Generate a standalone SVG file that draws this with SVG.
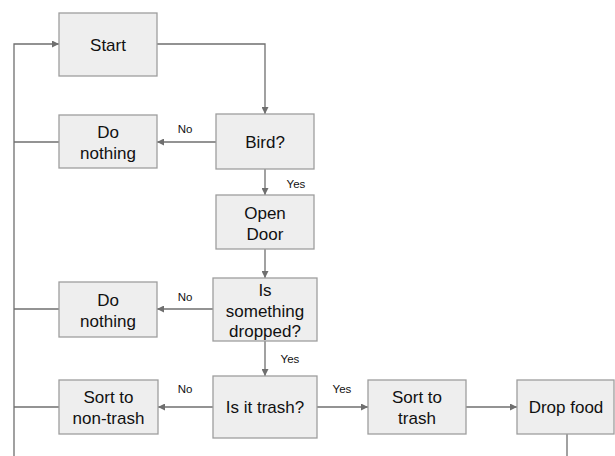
<svg xmlns="http://www.w3.org/2000/svg" width="615" height="456" viewBox="0 0 615 456">
<style>
.box{fill:#eeeeee;stroke:#9e9e9e;stroke-width:1.3}
.t{font-family:"Liberation Sans",Arial,sans-serif;font-size:17px;fill:#111;text-anchor:middle}
.l{font-family:"Liberation Sans",Arial,sans-serif;font-size:11.5px;fill:#111;text-anchor:middle}
.c{fill:none;stroke:#6f6f6f;stroke-width:1.3}
</style>
<defs>
<marker id="ah" viewBox="0 0 10 10" refX="10" refY="5" markerWidth="7" markerHeight="7" markerUnits="userSpaceOnUse" orient="auto">
<path d="M0,0 L10,5 L0,10 z" fill="#6f6f6f"/>
</marker>
</defs>
<rect width="615" height="456" fill="#ffffff"/>
<g id="connectors">
<path class="c" d="M157,44 H265 V114" marker-end="url(#ah)"/>
<path class="c" d="M216,142 H157" marker-end="url(#ah)"/>
<path class="c" d="M265,169 V195" marker-end="url(#ah)"/>
<path class="c" d="M265,249 V278" marker-end="url(#ah)"/>
<path class="c" d="M213,309 H157" marker-end="url(#ah)"/>
<path class="c" d="M265,341 V376" marker-end="url(#ah)"/>
<path class="c" d="M213,407 H158" marker-end="url(#ah)"/>
<path class="c" d="M317,407 H368" marker-end="url(#ah)"/>
<path class="c" d="M466,407 H517" marker-end="url(#ah)"/>
<path class="c" d="M567,434 V456"/>
<path class="c" d="M14,456 V44 H59" marker-end="url(#ah)"/>
<path class="c" d="M59,142 H14"/>
<path class="c" d="M59,309 H14"/>
<path class="c" d="M59,407 H14"/>
<text class="l" x="185" y="133">No</text>
<text class="l" x="296" y="188">Yes</text>
<text class="l" x="185" y="301">No</text>
<text class="l" x="290" y="363">Yes</text>
<text class="l" x="185" y="393">No</text>
<text class="l" x="342" y="393">Yes</text>
</g>
<g id="start">
<rect class="box" x="59" y="13" width="98" height="63"/>
<text class="t" x="108" y="50.5">Start</text>
</g>
<g id="bird">
<rect class="box" x="216" y="114" width="98" height="55"/>
<text class="t" x="265" y="147.5">Bird?</text>
</g>
<g id="donothing1">
<rect class="box" x="59" y="115" width="98" height="53"/>
<text class="t" x="108" y="138">Do</text>
<text class="t" x="108" y="159">nothing</text>
</g>
<g id="opendoor">
<rect class="box" x="216" y="195" width="98" height="54"/>
<text class="t" x="265" y="219">Open</text>
<text class="t" x="265" y="239.5">Door</text>
</g>
<g id="dropped">
<rect class="box" x="213" y="278" width="104" height="63"/>
<text class="t" x="265" y="295.5">Is</text>
<text class="t" x="265" y="316.5">something</text>
<text class="t" x="265" y="337">dropped?</text>
</g>
<g id="donothing2">
<rect class="box" x="59" y="282" width="98" height="55"/>
<text class="t" x="108" y="306">Do</text>
<text class="t" x="108" y="327">nothing</text>
</g>
<g id="istrash">
<rect class="box" x="213" y="376" width="104" height="62"/>
<text class="t" x="265" y="413">Is it trash?</text>
</g>
<g id="sortnontrash">
<rect class="box" x="59" y="380" width="99" height="54"/>
<text class="t" x="108.5" y="403">Sort to</text>
<text class="t" x="108.5" y="424">non-trash</text>
</g>
<g id="sorttrash">
<rect class="box" x="368" y="380" width="98" height="54"/>
<text class="t" x="417" y="403">Sort to</text>
<text class="t" x="417" y="424">trash</text>
</g>
<g id="dropfood">
<rect class="box" x="517" y="380" width="97" height="54"/>
<text class="t" x="566" y="413">Drop food</text>
</g>
</svg>
